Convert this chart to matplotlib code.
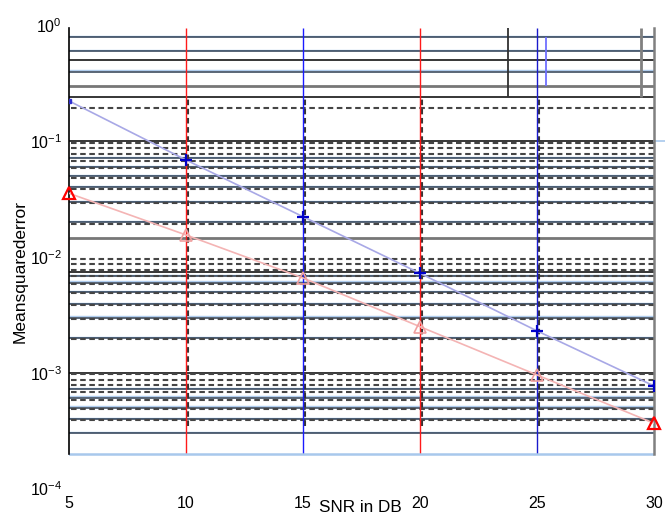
import matplotlib
matplotlib.use("Agg")
from matplotlib import pyplot as plt
from matplotlib import transforms

# measured curves
snr_db = [5, 10, 15, 20, 25, 30]
mse_blue = [0.223, 0.0689, 0.0223, 0.00723, 0.0023, 0.000769]
mse_red = [0.0355, 0.0155, 0.00659, 0.0025, 0.000957, 0.000366]

x_ticks = [5, 10, 15, 20, 25, 30]
y_exponents = [0, -1, -2, -3, -4]

# the export left two sets of horizontal grid lines, slightly out of step
solid_levels = [0.8, 0.6, 0.5, 0.4, 0.3, 0.243,
                0.1, 0.071, 0.06, 0.05, 0.04, 0.03, 0.02, 0.0147,
                0.0074, 0.0068, 0.006, 0.005, 0.0039, 0.003, 0.002,
                0.001, 0.00072, 0.00061, 0.0005, 0.0004, 0.0003]
solid_kind = ["s", "s", "k", "s", "g", "k",
              "k", "s", "s", "s", "s", "s", "s", "g",
              "k", "s", "s", "s", "s", "s", "s",
              "k", "s", "s", "s", "s", "s"]
dash_levels = [m * 10.0 ** e for e in (-1, -2, -3, -4) for m in range(1, 10)]
dash_levels = [v for v in dash_levels if 0.0004 <= v <= 0.2]

vline_x = [10, 15, 20, 25]
vline_colors = ["#ff1a1a", "#1a1aff", "#ff1a1a", "#1a1acc"]

stub_x = [23.75, 25.4, 29.45]
stub_lo = [0.243, 0.3, 0.243]
stub_colors = ["#303030", "#7070ff", "#808080"]

frame_top = 0.95
frame_bottom = 0.0002
dash_top = 0.237
dash_bottom = 0.00036

plt.rcParams['font.family'] = ['Liberation Sans', 'DejaVu Sans']
plt.rcParams['mathtext.default'] = 'regular'
plt.rcParams['lines.scale_dashes'] = False

fig = plt.figure(figsize=(6.65, 5.14), dpi=100)
ax = fig.add_axes([69 / 665, 1 - 488.5 / 514, 585 / 665, 463 / 514])
ax.set_yscale('log')

halo_tr = transforms.offset_copy(ax.transData, fig=fig, y=1.2, units='dots')
dash_tr = transforms.offset_copy(ax.transData, fig=fig, x=1.5, y=-1.5, units='dots')

# solid horizontals
for lvl, kind in zip(solid_levels, solid_kind):
    if kind == "s":
        ax.hlines(lvl, 5, 30, colors="#b0cdee", lw=1.0, transform=halo_tr, zorder=1)
        ax.hlines(lvl, 5, 30, colors="#2e3e52", lw=1.1, zorder=1.1)
    elif kind == "g":
        ax.hlines(lvl, 5, 30, colors="#777777", lw=2.0, zorder=1.1)
    else:
        ax.hlines(lvl, 5, 30, colors="#000000", lw=1.1, zorder=1.1)

# dashed grid
ax.hlines(dash_levels, 5, 30, colors="#454545", lw=1.5, linestyles=(0, (4, 2.6)),
          transform=dash_tr, zorder=1.2)
ax.vlines(vline_x, dash_bottom, dash_top, colors="#353535", lw=1.5,
          linestyles=(0, (4, 2.6)), transform=dash_tr, zorder=1.2)

# coloured verticals and stray stubs at the top
ax.vlines(vline_x, frame_bottom, frame_top, colors=vline_colors, lw=1.0, zorder=2)
ax.vlines(stub_x, stub_lo, [frame_top, 0.8, frame_top], colors=stub_colors,
          lw=[1.3, 1.3, 2.0], zorder=2)

# frame
ax.axhline(frame_bottom, color="#a8c8ec", lw=1.8, zorder=2)
ax.plot([30, 30.45], [0.1, 0.1], color="#a8c8ec", lw=1.2, clip_on=False)
for s in ("top", "bottom"):
    ax.spines[s].set_visible(False)
ax.spines["left"].set_bounds(frame_bottom, frame_top)
ax.spines["left"].set_linewidth(1.2)
ax.spines["right"].set_bounds(frame_bottom, frame_top)
ax.spines["right"].set_color("#808080")
ax.spines["right"].set_linewidth(1.8)

# series
ax.plot(snr_db, mse_blue, color="#a8a8e6", lw=1.2, zorder=5)
ax.plot(snr_db, mse_blue, ls="none", marker="+", ms=8, mew=1.6, color="#0000c8",
        markevery=slice(1, None), zorder=6)
ax.plot(snr_db[:1], mse_blue[:1], ls="none", marker="s", ms=2.5, color="#3030d0", zorder=6)
ax.plot(snr_db, mse_red, color="#f4b4b4", lw=1.2, zorder=5)
ax.plot(snr_db, mse_red, ls="none", marker="^", ms=8, mew=1.2, mfc="none",
        mec="#f0a0a0", markevery=[1, 2, 3, 4], zorder=6)
ax.plot(snr_db, mse_red, ls="none", marker="^", ms=9, mew=1.6, mfc="none",
        mec="#ff0000", markevery=[0, 5], zorder=6, clip_on=False)

ax.set_xlim(5, 30)
ax.set_ylim(1e-4, 1)
ax.set_xticks(x_ticks)
ax.set_yticks([10.0 ** e for e in y_exponents], labels=[f"$10^{{{e}}}$" for e in y_exponents])
ax.yaxis.set_minor_locator(matplotlib.ticker.NullLocator())
ax.tick_params(axis='both', length=0, labelsize=11.5)
ax.tick_params(axis='x', pad=5.4)
ax.tick_params(axis='y', pad=5)

ax.set_xlabel("SNR in DB", fontsize=12.3)
ax.xaxis.set_label_coords(0.498, -0.024)
ax.set_ylabel("Meansquarederror", fontsize=12.5)
ax.yaxis.set_label_coords(-0.07, 0.469)

fig.savefig("out.png", dpi=100)
